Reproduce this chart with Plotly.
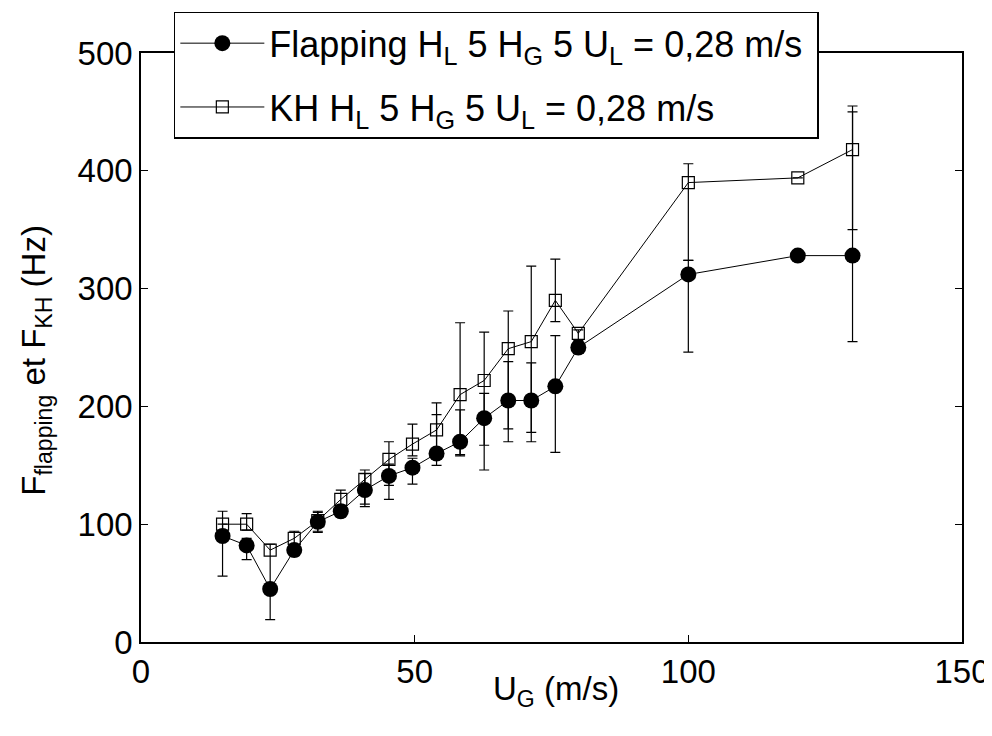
import plotly.graph_objects as go

# Data
u_g = [14.9, 19.3, 23.6, 28.0, 32.3, 36.5, 40.9, 45.3, 49.6, 54.0, 58.3, 62.7, 67.1, 71.3, 75.7, 79.9, 100, 120, 130]

f_flapping = [90, 82, 45, 78, 102, 111, 129, 141, 148, 160, 170, 190, 205, 205, 217, 250, 312, 328, 328]
flap_err_plus = [10, 6, 0, 5, 8, 5, 14, 10, 8, 33, 27, 21, 33, 32, 43, 5, 12, None, 122]
flap_err_minus = [34, 12, 26, 5, 8, 5, 12, 20, 14, 10, 12, 44, 35, 35, 56, 5, 66, None, 73]

f_kh = [100, 100, 78, 88, 103, 121, 138, 155, 168, 180, 210, 222, 249, 255, 290, 262, 390, 394, 418]
kh_err_plus = [11, 9, 5, 6, 8, 8, 8, 15, 17, 23, 61, 41, 32, 64, 35, 3, 16, None, 37]
kh_err_minus = [10, 5, 33, 6, 10, 8, 23, 22, 10, 20, 51, 55, 68, 77, 18, 6, 66, None, 68]

x_ticks = [0, 50, 100, 150]
y_ticks = [0, 100, 200, 300, 400, 500]

x_title = "U<sub>G</sub> (m/s)"
y_title = "F<sub>flapping</sub> et F<sub>KH</sub> (Hz)"

FONT = "Liberation Sans, Arial, Helvetica, sans-serif"

fig = go.Figure()

fig.add_trace(go.Scatter(
    x=u_g, y=f_flapping, mode="lines+markers",
    name="Flapping H<sub>L</sub> 5 H<sub>G</sub> 5 U<sub>L</sub> = 0,28 m/s&nbsp;",
    legendgroup="a",
    line=dict(color="black", width=1),
    marker=dict(symbol="circle", size=16, color="black"),
    error_y=dict(type="data", symmetric=False, array=flap_err_plus, arrayminus=flap_err_minus,
                 color="black", thickness=1.2, width=5),
))

fig.add_trace(go.Scatter(
    x=u_g, y=f_kh, mode="lines+markers",
    name="KH H<sub>L</sub> 5 H<sub>G</sub> 5 U<sub>L</sub> = 0,28 m/s",
    legendgroup="b",
    line=dict(color="black", width=1),
    marker=dict(symbol="square-open", size=12, color="black", line=dict(width=1.2, color="black")),
    error_y=dict(type="data", symmetric=False, array=kh_err_plus, arrayminus=kh_err_minus,
                 color="black", thickness=1.2, width=5),
))

axis_common = dict(
    showline=True, linecolor="black", linewidth=1.5, mirror="ticks",
    ticks="inside", ticklen=7, tickcolor="black", tickwidth=1,
    showgrid=False, zeroline=False, automargin=False,
    tickfont=dict(family=FONT, size=33, color="black"),
)

fig.update_xaxes(range=[0, 150], tickvals=x_ticks, **axis_common)
fig.update_yaxes(range=[0, 500], tickvals=y_ticks, **axis_common)

fig.add_annotation(
    text=x_title, xref="paper", yref="paper", x=0.505, y=-0.083,
    xanchor="center", yanchor="middle", showarrow=False,
    font=dict(family=FONT, size=33, color="black"),
)
fig.add_annotation(
    text=y_title, xref="paper", yref="paper", x=-0.128, y=0.479,
    xanchor="center", yanchor="middle", textangle=-90, showarrow=False,
    font=dict(family=FONT, size=33, color="black"),
)

# The page body adds an 8 px offset; size the figure so the plot lands where the reference has it.
fig.update_layout(
    width=984, height=728,
    margin=dict(l=133, r=30, t=45, b=94, autoexpand=False),
    paper_bgcolor="white", plot_bgcolor="white",
    font=dict(family=FONT, color="black"),
    showlegend=True,
    legend=dict(
        x=0.040, y=1.07, xanchor="left", yanchor="top",
        bgcolor="white", bordercolor="black", borderwidth=1.5,
        font=dict(family=FONT, size=36, color="black"),
        itemwidth=84,
        tracegroupgap=14,
    ),
)

fig.write_html("out.html")
